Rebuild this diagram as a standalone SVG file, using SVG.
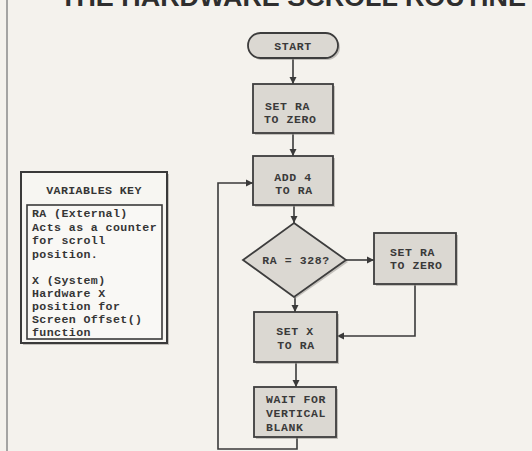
<svg xmlns="http://www.w3.org/2000/svg" width="532" height="451" viewBox="0 0 532 451">
<defs>
<style>
.bg{fill:#f4f2ed}
.box{fill:#dbd8d2;stroke:#3d3d3d;stroke-width:1.8}
.shadow{fill:#9a9792;opacity:0.55}
.t{font-family:"Liberation Mono","DejaVu Sans Mono",monospace;font-size:11.5px;letter-spacing:0.6px;font-weight:bold;fill:#3a3a3a}
.k{font-family:"Liberation Mono","DejaVu Sans Mono",monospace;font-size:11.6px;letter-spacing:0.4px;font-weight:bold;fill:#353535}
.title{font-family:"Liberation Sans",Arial,sans-serif;font-size:26px;font-weight:bold;fill:#2e2e2e}
.c{fill:none;stroke:#3a3a3a;stroke-width:1.6}
</style>
<marker id="ah" markerWidth="8" markerHeight="8" refX="7" refY="4" orient="auto" markerUnits="userSpaceOnUse">
<path d="M0,0.5 L7,4 L0,7.5 Z" fill="#3a3a3a"/>
</marker>
</defs>
<rect class="bg" x="0" y="0" width="532" height="451"/>
<line x1="7" y1="0" x2="7" y2="451" stroke="#8a8a8a" stroke-width="1.5"/>
<text class="title" x="60" y="6" textLength="466" lengthAdjust="spacingAndGlyphs">THE HARDWARE SCROLL ROUTINE</text>

<g id="connectors">
<line class="c" x1="293" y1="58" x2="293" y2="84" marker-end="url(#ah)"/>
<line class="c" x1="293" y1="133" x2="293" y2="156" marker-end="url(#ah)"/>
<line class="c" x1="294" y1="205" x2="294" y2="223" marker-end="url(#ah)"/>
<line class="c" x1="346" y1="260" x2="374" y2="260" marker-end="url(#ah)"/>
<polyline class="c" points="415,284 415,336 337,336" marker-end="url(#ah)"/>
<line class="c" x1="295" y1="297" x2="295" y2="312" marker-end="url(#ah)"/>
<line class="c" x1="296" y1="362" x2="296" y2="387" marker-end="url(#ah)"/>
<polyline class="c" points="297,437 297,449 218,449 218,183 253,183" marker-end="url(#ah)"/>
</g>

<g id="start">
<rect class="shadow" x="250" y="35" width="90" height="25" rx="12.5"/>
<rect class="box" x="248" y="33" width="90" height="25" rx="12.5"/>
<text class="t" x="293" y="50" text-anchor="middle">START</text>
</g>

<g id="set-ra-zero">
<rect class="shadow" x="255" y="86" width="80" height="49"/>
<rect class="box" x="253" y="84" width="80" height="49"/>
<text class="t" x="265" y="110">SET RA</text>
<text class="t" x="264" y="123">TO ZERO</text>
</g>

<g id="add-4">
<rect class="shadow" x="255" y="158" width="80" height="49"/>
<rect class="box" x="253" y="156" width="80" height="49"/>
<text class="t" x="293" y="181" text-anchor="middle">ADD 4</text>
<text class="t" x="294" y="194" text-anchor="middle">TO RA</text>
</g>

<g id="decision">
<polygon class="shadow" points="295,225 348,262 295,299 245,262"/>
<polygon class="box" points="294,223 346,260 294,297 243,260"/>
<text class="t" x="296" y="264" text-anchor="middle">RA = 328?</text>
</g>

<g id="set-ra-zero-2">
<rect class="shadow" x="376" y="235" width="82" height="51"/>
<rect class="box" x="374" y="233" width="82" height="51"/>
<text class="t" x="390" y="256">SET RA</text>
<text class="t" x="390" y="269">TO ZERO</text>
</g>

<g id="set-x">
<rect class="shadow" x="256" y="314" width="83" height="50"/>
<rect class="box" x="254" y="312" width="83" height="50"/>
<text class="t" x="295" y="335" text-anchor="middle">SET X</text>
<text class="t" x="296" y="349" text-anchor="middle">TO RA</text>
</g>

<g id="wait">
<rect class="shadow" x="256" y="389" width="82" height="50"/>
<rect class="box" x="254" y="387" width="82" height="50"/>
<text class="t" x="266" y="403">WAIT FOR</text>
<text class="t" x="266" y="417">VERTICAL</text>
<text class="t" x="266" y="431">BLANK</text>
</g>

<g id="variables-key">
<rect class="shadow" x="23" y="174" width="146" height="171"/>
<rect x="21" y="172" width="146" height="171" fill="#f7f6f2" stroke="#3a3a3a" stroke-width="2"/>
<text class="k" x="94" y="194" text-anchor="middle">VARIABLES KEY</text>
<rect x="27" y="205" width="135" height="134" fill="#f9f8f5" stroke="#3a3a3a" stroke-width="1.6"/>
<text class="k" x="32" y="217">RA (External)</text>
<text class="k" x="32" y="231">Acts as a counter</text>
<text class="k" x="32" y="244">for scroll</text>
<text class="k" x="32" y="258">position.</text>
<text class="k" x="32" y="284">X (System)</text>
<text class="k" x="32" y="297">Hardware X</text>
<text class="k" x="32" y="310">position for</text>
<text class="k" x="32" y="323">Screen Offset()</text>
<text class="k" x="32" y="336">function</text>
</g>
</svg>
